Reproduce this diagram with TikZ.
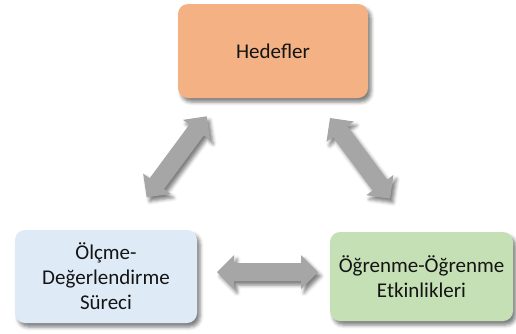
\documentclass[tikz,border=0pt]{standalone}
\usepackage{fontspec}
\setmainfont{Carlito}
\usetikzlibrary{shadows.blur,calc}
\definecolor{goalfill}{HTML}{F4B183}
\definecolor{evalfill}{HTML}{DEEBF7}
\definecolor{actfill}{HTML}{C5E0B4}
\definecolor{linkgray}{HTML}{A6A6A6}
\tikzset{
  softshadow/.style={blur shadow={shadow xshift=3pt, shadow yshift=-4pt,
      shadow blur radius=3.5pt, shadow opacity=50}},
  box/.style={rounded corners=10pt, fill=#1, draw=none, align=center,
      font=\fontsize{21}{25}\selectfont, text=black!92, inner sep=0pt,
      softshadow},
  link/.style={fill=linkgray, draw=none, softshadow},
}
% Two-headed block arrow with its tips at #1 and #2:
% head 17pt long and 34pt wide, shaft 18pt wide.
\newcommand\twowaylink[3]{%
  \fill[link] (#1)
    -- ($(#1)!24.04pt!45:(#2)$)   -- ($(#1)!19.24pt!27.9:(#2)$)
    -- ($(#2)!19.24pt!-27.9:(#1)$) -- ($(#2)!24.04pt!-45:(#1)$)
    -- (#2)
    -- ($(#2)!24.04pt!45:(#1)$)   -- ($(#2)!19.24pt!27.9:(#1)$)
    -- ($(#1)!19.24pt!-27.9:(#2)$) -- ($(#1)!24.04pt!-45:(#2)$)
    -- cycle;%
}
\begin{document}
\begin{tikzpicture}[x=1pt,y=-1pt]
  \useasboundingbox (0,0) rectangle (516,333);
  % the three stages
  \node[box=goalfill, minimum width=190pt, minimum height=94pt] (goal) at (273,51) {Hedefler};
  \node[box=evalfill, minimum width=182pt, minimum height=93pt] (eval) at (106,276.5)
    {Ölçme-\\Değerlendirme\\Süreci};
  \node[box=actfill, minimum width=183pt, minimum height=89pt] (act) at (421.5,276.5)
    {Öğrenme-Öğrenme\\Etkinlikleri};
  % tips of the two-way block arrows
  \coordinate (ge1) at (206.7,116.3);
  \coordinate (ge2) at (146.7,197.3);
  \coordinate (ga1) at (330,118);
  \coordinate (ga2) at (390,198.7);
  \coordinate (ea1) at (217,272);
  \coordinate (ea2) at (318,272);
  % two-way links between the stages
  \twowaylink{ge1}{ge2}{goaleval}
  \twowaylink{ga1}{ga2}{goalact}
  \twowaylink{ea1}{ea2}{evalact}
\end{tikzpicture}
\end{document}
